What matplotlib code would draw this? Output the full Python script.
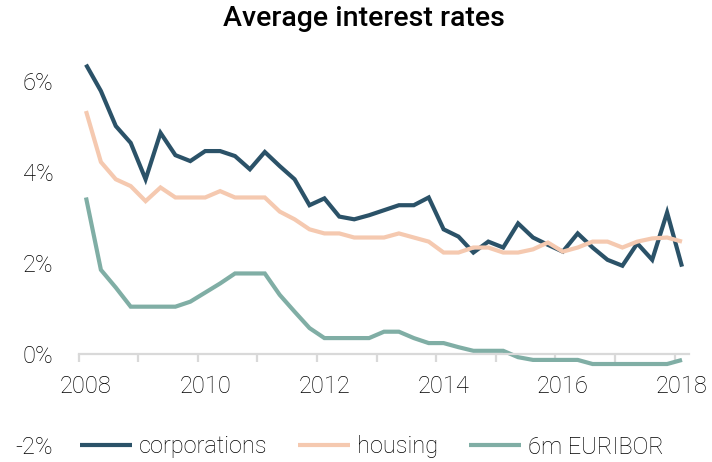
import numpy as np
import matplotlib
matplotlib.use("Agg")
import matplotlib.pyplot as plt

# quarterly observations, 2008Q1 .. 2018Q1
quarters = 2008 + np.arange(41) / 4.0

corporations = [6.36, 5.78, 5.01, 4.64, 3.84, 4.86, 4.37, 4.24, 4.46, 4.46,
                4.35, 4.06, 4.44, 4.13, 3.84, 3.27, 3.42, 3.02, 2.96, 3.05,
                3.16, 3.27, 3.27, 3.44, 2.74, 2.58, 2.23, 2.47, 2.34, 2.87,
                2.56, 2.40, 2.25, 2.65, 2.34, 2.07, 1.94, 2.43, 2.07, 3.11,
                1.92]
housing = [5.34, 4.22, 3.84, 3.69, 3.36, 3.66, 3.44, 3.44, 3.44, 3.58,
           3.44, 3.44, 3.44, 3.13, 2.96, 2.74, 2.65, 2.65, 2.56, 2.56,
           2.56, 2.65, 2.56, 2.47, 2.23, 2.23, 2.34, 2.34, 2.23, 2.23,
           2.30, 2.45, 2.25, 2.34, 2.47, 2.47, 2.34, 2.47, 2.54, 2.56,
           2.47]
euribor = [3.44, 1.85, 1.46, 1.04, 1.04, 1.04, 1.04, 1.15, 1.35, 1.55,
           1.77, 1.77, 1.77, 1.30, 0.93, 0.57, 0.35, 0.35, 0.35, 0.35,
           0.49, 0.49, 0.35, 0.24, 0.24, 0.15, 0.07, 0.07, 0.07, -0.07,
           -0.13, -0.13, -0.13, -0.13, -0.22, -0.22, -0.22, -0.22, -0.22, -0.22,
           -0.13]

labels = ["corporations", "housing", "6m EURIBOR"]
colors = ["#2b5268", "#f5c9b0", "#80aea5"]
year_labels = [2008, 2010, 2012, 2014, 2016, 2018]
y_ticks = [-2, 0, 2, 4, 6]

plt.rcParams['font.family'] = ['Roboto', 'DejaVu Sans']

W, H = 712, 462
fig = plt.figure(figsize=(W / 100, H / 100), dpi=100)
ax = fig.add_axes([70 / W, 0, 630 / W, 412 / H])

for series, name, c in zip([corporations, housing, euribor], labels, colors):
    ax.plot(quarters, series, color=c, lw=3.0, label=name,
            solid_joinstyle='miter', solid_capstyle='butt')

# x-limits: 2008 at px 86, 59.6 px per year
ax.set_xlim(2008 - 16 / 59.6, 2018 + 18 / 59.6)
ax.set_ylim(-108 / 45.5, 304 / 45.5)

for s in ['top', 'right', 'left']:
    ax.spines[s].set_visible(False)
ax.spines['bottom'].set_position(('data', 0))
ax.spines['bottom'].set_color('#d9d9d9')
ax.spines['bottom'].set_linewidth(1.6)
ax.spines['bottom'].set_bounds(2007.875, 2018.125)

# tick marks between quarters at each year, labels on even years
ax.set_xticks([y - 0.125 for y in range(2008, 2019)])
ax.set_xticklabels([])
ax.tick_params(axis='x', which='major', length=6, width=1.6, color='#d9d9d9')
ax.set_xticks(year_labels, minor=True)
ax.set_xticklabels([str(y) for y in year_labels], minor=True)
ax.tick_params(axis='x', which='minor', length=0, pad=15, labelsize=17)

ax.set_yticks(y_ticks)
ax.set_yticklabels([f"{v}%" for v in y_ticks])
ax.tick_params(axis='y', length=0, pad=12, labelsize=17)
for t in ax.get_xticklabels(minor=True) + ax.get_yticklabels():
    t.set_fontweight('light')

fig.text(364 / W, 1 - 19 / H, "Average interest rates", ha='center', va='center',
         fontsize=20.5, fontweight='medium')

leg = ax.legend(loc='center', bbox_to_anchor=(372 / W, 15 / H),
                bbox_transform=fig.transFigure, ncol=3, frameon=False,
                fontsize=17, handlelength=2.2, handletextpad=0.3,
                columnspacing=1.3)
for t in leg.get_texts():
    t.set_fontweight('light')

fig.savefig("out.png", dpi=100)
